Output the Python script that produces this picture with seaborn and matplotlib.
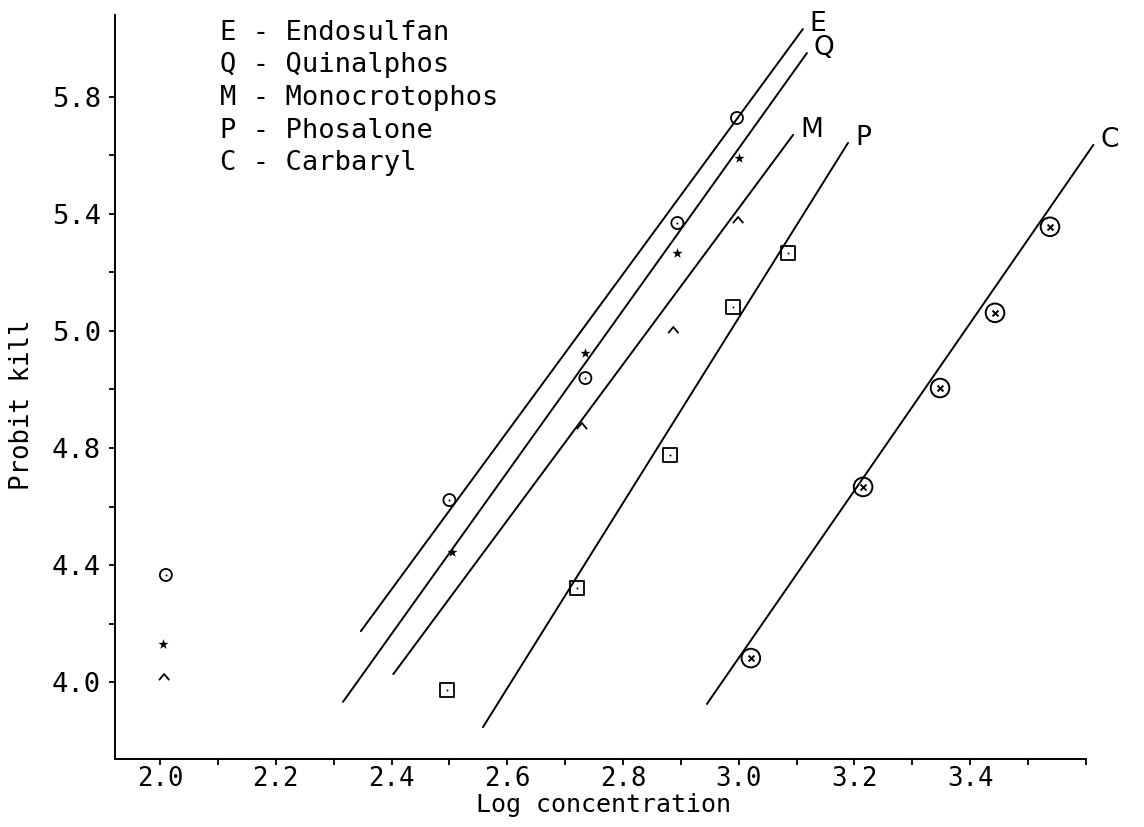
import numpy as np
import pandas as pd
import matplotlib
matplotlib.use("Agg")
import matplotlib.pyplot as plt
from matplotlib.path import Path
import seaborn as sns

endo_x = [2.010, 2.500, 2.735, 2.894, 2.997]
endo_y = [4.166, 4.422, 4.839, 5.369, 5.728]
quin_x = [2.005, 2.505, 2.735, 2.894, 3.001]
quin_y = [3.930, 4.244, 4.925, 5.267, 5.591]
mono_x = [2.007, 2.729, 2.887, 2.999]
mono_y = [3.817, 4.675, 5.003, 5.379]
phos_x = [2.496, 2.721, 2.881, 2.990, 3.085]
phos_y = [3.773, 4.121, 4.576, 5.082, 5.267]
carb_x = [3.021, 3.215, 3.348, 3.443, 3.538]
carb_y = [3.882, 4.467, 4.805, 5.062, 5.356]

# fitted regression lines (end points)
fit_names = ["E", "Q", "M", "P", "C"]
fit_x = [[2.347, 3.111], [2.316, 3.118], [2.403, 3.094], [2.558, 3.189], [2.945, 3.613]]
fit_y = [[3.974, 6.032], [3.732, 5.950], [3.827, 5.670], [3.646, 5.643], [3.725, 5.636]]

legend_lines = ["E - Endosulfan", "Q - Quinalphos", "M - Monocrotophos",
                "P - Phosalone", "C - Carbaryl"]

xtick_labels = ["2.0", "2.2", "2.4", "2.6", "2.8", "3.0", "3.2", "3.4"]
ytick_labels = ["4.0", "4.4", "4.8", "5.0", "5.4", "5.8"]

sns.set_style("ticks")
plt.rcParams["font.family"] = ["DejaVu Sans Mono", "DejaVu Sans"]
plt.rcParams["axes.linewidth"] = 1.4
for key in ["text.color", "axes.labelcolor", "xtick.color", "ytick.color", "axes.edgecolor"]:
    plt.rcParams[key] = "black"

fig = plt.figure(figsize=(11.44, 8.27), dpi=100)
ax = fig.add_axes([0.1005, 0.0822, 0.8689, 0.8997])

# fitted lines
for name, xs, ys in zip(fit_names, fit_x, fit_y):
    df = pd.DataFrame({"x": xs, "y": ys})
    sns.lineplot(data=df, x="x", y="y", ax=ax, color="black", linewidth=1.4,
                 estimator=None, sort=False)
    ax.annotate(name, (xs[1], ys[1]), xytext=(5, 3.5), textcoords="offset points",
                ha="left", va="center", fontsize=19, family="DejaVu Sans")

caret = Path([(-1, -0.6), (0, 0.6), (1, -0.6)], [Path.MOVETO, Path.LINETO, Path.LINETO])

# Endosulfan: dotted circle
sns.scatterplot(x=endo_x, y=endo_y, ax=ax, marker="o", s=75, facecolor="none",
                edgecolor="black", linewidth=1.3)
sns.scatterplot(x=endo_x, y=endo_y, ax=ax, marker=".", s=8, color="black", linewidth=0)
# Quinalphos: small star
sns.scatterplot(x=quin_x, y=quin_y, ax=ax, marker="*", s=60, color="black", linewidth=0)
# Monocrotophos: caret
sns.scatterplot(x=mono_x, y=mono_y, ax=ax, marker=caret, s=55, facecolor="none",
                edgecolor="black", linewidth=1.3)
# Phosalone: dotted square
sns.scatterplot(x=phos_x, y=phos_y, ax=ax, marker="s", s=100, facecolor="none",
                edgecolor="black", linewidth=1.3)
sns.scatterplot(x=phos_x, y=phos_y, ax=ax, marker=".", s=8, color="black", linewidth=0)
# Carbaryl: crossed big circle
sns.scatterplot(x=carb_x, y=carb_y, ax=ax, marker="o", s=180, facecolor="none",
                edgecolor="black", linewidth=1.4)
sns.scatterplot(x=carb_x, y=carb_y, ax=ax, marker="x", s=18, color="black", linewidth=1.4)

# key in the upper left, one line at a time
for i, line in enumerate(legend_lines):
    ax.text(0.1056, 0.9758 - i * 0.0437, line, transform=ax.transAxes,
            ha="left", va="center", fontsize=19.5)

ax.set_xlim(1.922, 3.64)
ax.set_ylim(3.537, 6.08)
sns.despine(ax=ax)
ax.spines["bottom"].set_bounds(1.922, 3.6)

ax.set_xticks(np.arange(2.1, 3.61, 0.2), minor=True)
ax.set_xticks(list(np.arange(2.0, 3.41, 0.2)) + [3.6])
ax.set_xticklabels(xtick_labels + [""])
ax.set_yticks(np.arange(3.8, 5.81, 0.4))
ax.set_yticklabels(ytick_labels)
ax.set_yticks(np.arange(4.0, 5.61, 0.4), minor=True)
ax.tick_params(which="both", direction="out", length=4, width=1.3, color="black")
ax.tick_params(axis="x", which="major", labelsize=18.5, pad=1)
ax.tick_params(axis="y", which="major", labelsize=19.5, pad=6)

ax.set_xlabel("Log concentration", fontsize=18)
ax.set_ylabel("Probit kill", fontsize=18.5)
ax.xaxis.set_label_coords(0.491, -0.046)
ax.yaxis.set_label_coords(-0.08, 0.476)

fig.savefig("out.png", dpi=100)
